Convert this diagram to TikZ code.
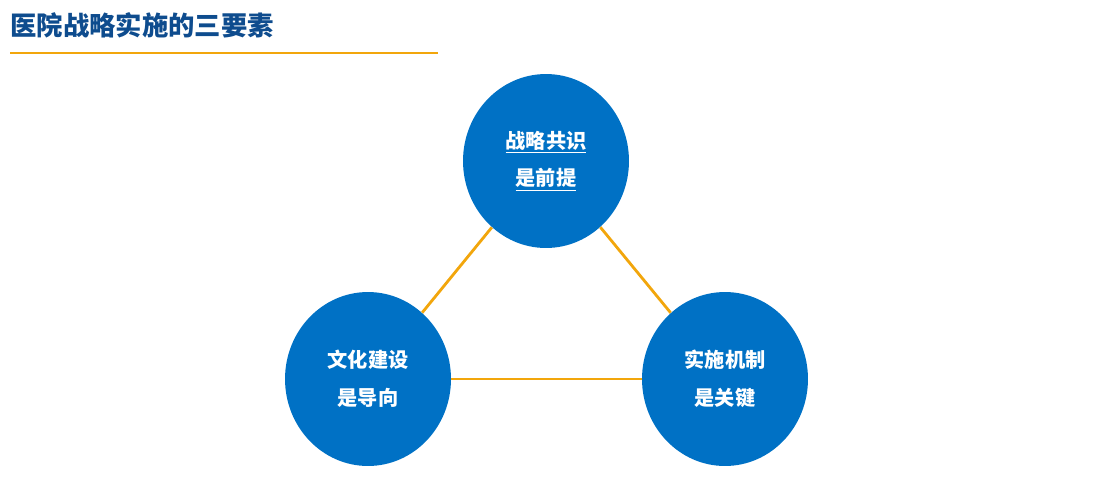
\documentclass[tikz,border=0pt]{standalone}
\usepackage{fontspec}
\newfontfamily\cjk{Noto Sans CJK SC}
\usetikzlibrary{shapes.geometric}
\definecolor{titleblue}{HTML}{0E4C8E}
\definecolor{circblue}{HTML}{0071C5}
\definecolor{lineorange}{HTML}{F2A60C}
\tikzset{
  element/.style={ellipse, fill=circblue, minimum width=3.32cm, minimum height=3.48cm,
    inner sep=0pt, text=white, align=center, font=\cjk\bfseries\fontsize{11.5}{21.5}\selectfont},
  link/.style={draw=lineorange, line width=1.6pt}
}
\begin{document}
\begin{tikzpicture}[x=0.02cm, y=-0.02cm]
  % page size
  \useasboundingbox (0,0) rectangle (1095,491);
  % title
  \node[anchor=west, text=titleblue, font=\cjk\bfseries\fontsize{15}{18}\selectfont, inner sep=0pt]
    (title) at (10,25) {医院战略实施的三要素};
  \coordinate (rule_a) at (10,53);
  \coordinate (rule_b) at (438,53);
  \draw[lineorange, line width=1pt] (rule_a) -- (rule_b);
  % elements
  \node[element] (consensus) at (546,161) {\underline{战略共识}\\\underline{是前提}};
  \node[element] (culture) at (368,379) {文化建设\\是导向};
  \node[element] (mechanism) at (725,379) {实施机制\\是关键};
  % connectors
  \draw[link] (consensus) -- (culture);
  \draw[link] (consensus) -- (mechanism);
  \draw[link] (culture) -- (mechanism);
\end{tikzpicture}
\end{document}
